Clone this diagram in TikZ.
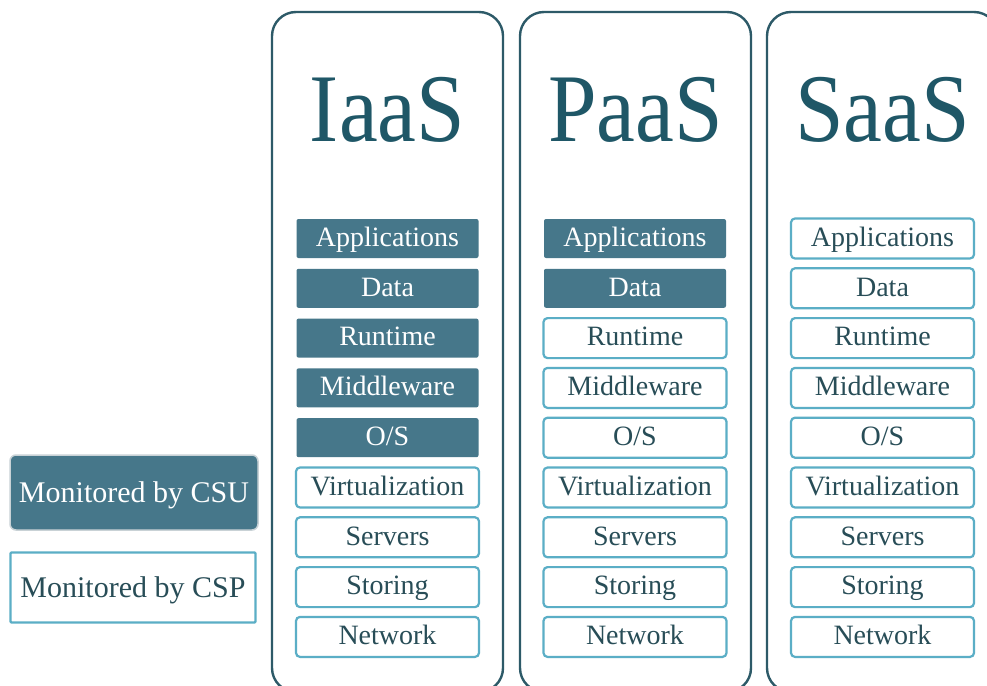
\documentclass[tikz,border=0pt]{standalone}
\usepackage{fontspec}
\setmainfont{Liberation Serif}
\newfontfamily\titlefont[FakeStretch=0.9]{Liberation Serif}
\definecolor{darkfill}{HTML}{46778A}
\definecolor{titlecol}{HTML}{1F5767}
\definecolor{colborder}{HTML}{2D5A68}
\definecolor{lightline}{HTML}{5BAEC6}
\definecolor{boxtext}{HTML}{284D57}
\definecolor{grayline}{HTML}{C9D2D6}
\tikzset{
  column/.style={draw=colborder, line width=2.4pt, rounded corners=24pt},
  coltitle/.style={text=titlecol, font=\titlefont\fontsize{97}{97}\selectfont, anchor=base},
  darkbox/.style={fill=darkfill, draw=none, rounded corners=2pt, minimum width=182pt, minimum height=39pt,
     text=white, font=\fontsize{28}{28}\selectfont, text height=19.5pt, text depth=4pt, inner sep=0pt},
  lightbox/.style={fill=white, draw=lightline, line width=2.2pt, rounded corners=4pt, minimum width=183pt, minimum height=40pt,
     text=boxtext, font=\fontsize{28}{28}\selectfont, text height=19.5pt, text depth=4pt, inner sep=0pt},
  legendtext/.style={font=\fontsize{30}{30}\selectfont, text height=21pt, text depth=2pt, inner sep=0pt},
}
\begin{document}
\begin{tikzpicture}[x=1pt,y=-1pt]
\useasboundingbox (0,0) rectangle (987,685);
\clip (0,0) rectangle (987,685);
\fill[white] (0,0) rectangle (987,685);
% columns
\draw[column] (272,12) rectangle (503,692);
\draw[column] (520,12) rectangle (751,692);
\draw[column] (767,12) rectangle (998,692);
% titles
\node[coltitle] (tIaaS) at (387.5,141) {IaaS};
\node[coltitle] (tPaaS) at (635.5,141) {PaaS};
\node[coltitle] (tSaaS) at (882.5,141) {SaaS};
% IaaS
\node[darkbox] (i1) at (387.5,238.5) {Applications};
\node[darkbox] (i2) at (387.5,288.3) {Data};
\node[darkbox] (i3) at (387.5,338.1) {Runtime};
\node[darkbox] (i4) at (387.5,387.9) {Middleware};
\node[darkbox] (i5) at (387.5,437.7) {O/S};
\node[lightbox] (i6) at (387.5,487.5) {Virtualization};
\node[lightbox] (i7) at (387.5,537.3) {Servers};
\node[lightbox] (i8) at (387.5,587.1) {Storing};
\node[lightbox] (i9) at (387.5,636.9) {Network};
% PaaS
\node[darkbox] (p1) at (635,238.5) {Applications};
\node[darkbox] (p2) at (635,288.3) {Data};
\node[lightbox] (p3) at (635,338.1) {Runtime};
\node[lightbox] (p4) at (635,387.9) {Middleware};
\node[lightbox] (p5) at (635,437.7) {O/S};
\node[lightbox] (p6) at (635,487.5) {Virtualization};
\node[lightbox] (p7) at (635,537.3) {Servers};
\node[lightbox] (p8) at (635,587.1) {Storing};
\node[lightbox] (p9) at (635,636.9) {Network};
% SaaS
\node[lightbox] (s1) at (882.5,238.5) {Applications};
\node[lightbox] (s2) at (882.5,288.3) {Data};
\node[lightbox] (s3) at (882.5,338.1) {Runtime};
\node[lightbox] (s4) at (882.5,387.9) {Middleware};
\node[lightbox] (s5) at (882.5,437.7) {O/S};
\node[lightbox] (s6) at (882.5,487.5) {Virtualization};
\node[lightbox] (s7) at (882.5,537.3) {Servers};
\node[lightbox] (s8) at (882.5,587.1) {Storing};
\node[lightbox] (s9) at (882.5,636.9) {Network};
% legend
\node[fill=darkfill, draw=grayline, line width=1.5pt, rounded corners=6pt, minimum width=248pt, minimum height=75pt,
  text=white, legendtext] (csu) at (134,492.5) {Monitored by CSU};
\node[fill=white, draw=lightline, line width=2.4pt, rounded corners=1pt, minimum width=245pt, minimum height=70pt,
  text=boxtext, legendtext] (csp) at (133,587.5) {Monitored by CSP};
\end{tikzpicture}
\end{document}
